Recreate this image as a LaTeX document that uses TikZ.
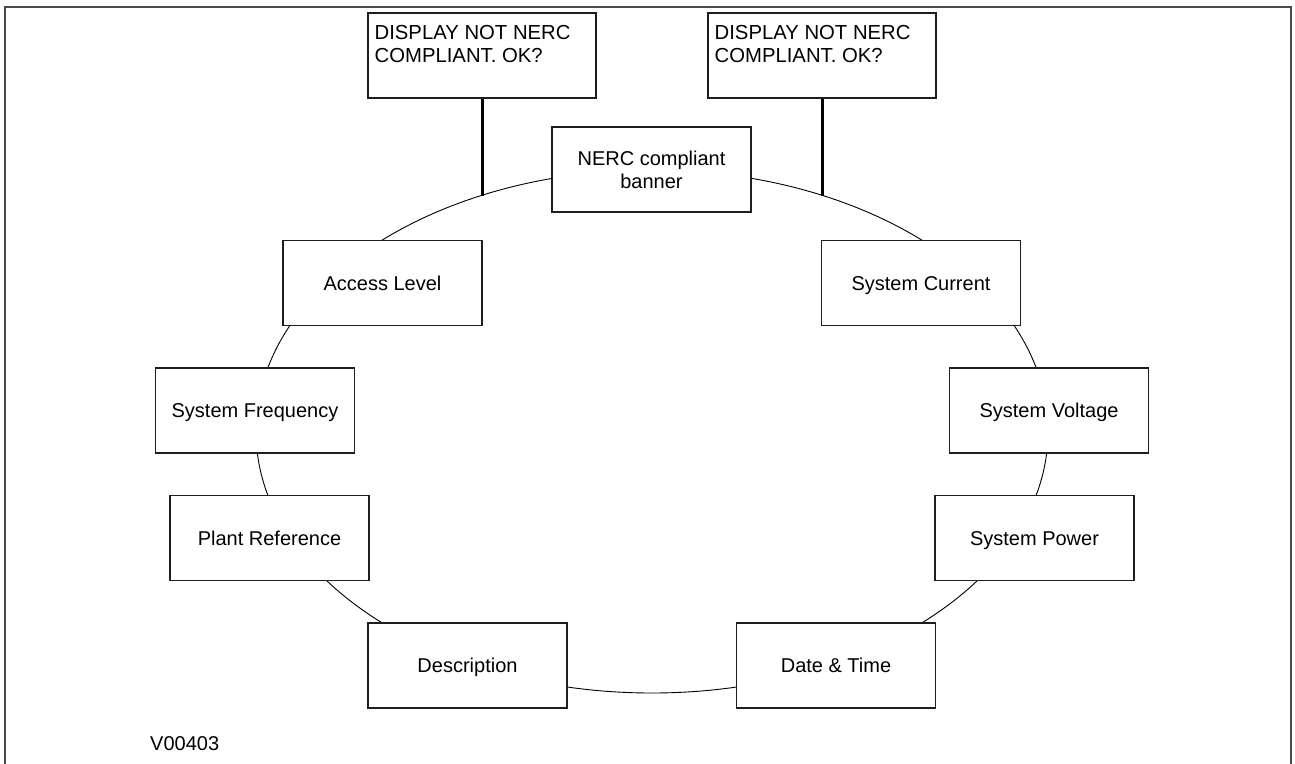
\documentclass[tikz,border=0pt]{standalone}
\usepackage{fontspec}
\setmainfont{Liberation Sans}
\definecolor{framegray}{RGB}{75,75,75}
\definecolor{boxline}{RGB}{30,30,30}
\begin{document}
\begin{tikzpicture}[x=1pt,y=-1pt,
  menubox/.style={draw=boxline,line width=1.1pt,fill=white,minimum width=199pt,minimum height=85pt,
    inner sep=0pt,align=center,font=\fontsize{20}{23}\selectfont},
  onebox/.style={menubox,text height=14.3pt,text depth=0pt},
  dispbox/.style={draw=boxline,line width=1.1pt,fill=white,minimum width=228pt,minimum height=85pt,
    inner sep=0pt},
  ring/.style={draw=black,line width=0.9pt},
  stem/.style={draw=black,line width=3pt},
  frame/.style={draw=framegray,line width=2.4pt}]
\useasboundingbox (0,0) rectangle (1295,763);
% outer frame (open at bottom)
\draw[frame] (5,770) -- (5,7) -- (1291,7) -- (1291,770);
% ring
\draw[ring] (652,431.5) ellipse [x radius=396pt, y radius=261.5pt];
% boxes on the ring
\node[menubox] (nerc) at (651.5,169.5) {NERC compliant\\banner};
\node[onebox] (access) at (382.5,283) {Access Level};
\node[onebox] (current) at (921,283) {System Current};
\node[onebox] (freq) at (255,410.5) {System Frequency};
\node[onebox] (voltage) at (1049,410.5) {System Voltage};
\node[onebox] (plant) at (269.5,538) {Plant Reference};
\node[onebox] (power) at (1034.5,538) {System Power};
\node[onebox] (desc) at (467.5,665.5) {Description};
\node[onebox] (date) at (836,665.5) {Date \& Time};
% warning boxes
\node[dispbox] (dispL) at (482,55.5) {};
\node[dispbox] (dispR) at (822,55.5) {};
\node[anchor=north west,inner sep=0pt,align=left,font=\fontsize{20.3}{23}\selectfont]
  (dispLtext) at ([xshift=7pt,yshift=-13pt]dispL.north west) {DISPLAY NOT NERC\\COMPLIANT. OK?};
\node[anchor=north west,inner sep=0pt,align=left,font=\fontsize{20.3}{23}\selectfont]
  (dispRtext) at ([xshift=7pt,yshift=-13pt]dispR.north west) {DISPLAY NOT NERC\\COMPLIANT. OK?};
\coordinate (ringL) at (482,196);
\coordinate (ringR) at (822,196);
\draw[stem] (dispL.south) -- (ringL);
\draw[stem] (dispR.south) -- (ringR);
% figure code
\node[anchor=base west,inner sep=0pt,font=\fontsize{20}{23}\selectfont] (code) at (150,750) {V00403};
\end{tikzpicture}
\end{document}
